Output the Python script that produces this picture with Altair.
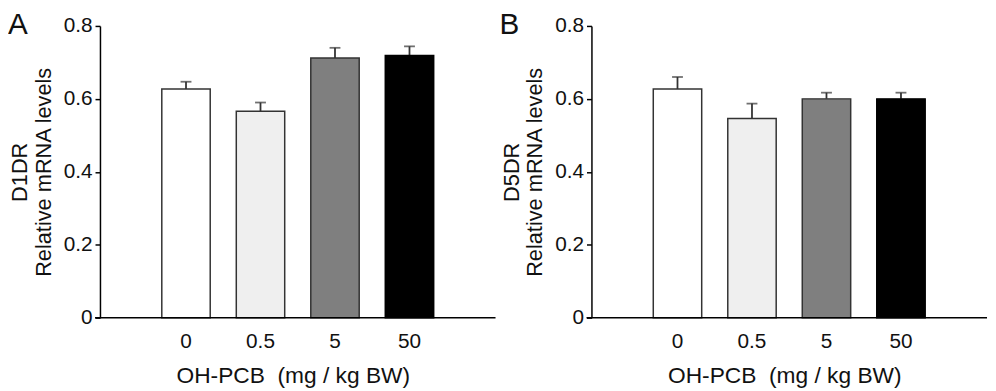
import altair as alt
import pandas as pd

cats = ["0", "0.5", "5", "50"]
d1_mean = [0.627, 0.566, 0.712, 0.719]
d1_err = [0.020, 0.024, 0.028, 0.025]
d5_mean = [0.627, 0.546, 0.600, 0.600]
d5_err = [0.033, 0.041, 0.017, 0.017]
fills = ["#ffffff", "#efefef", "#7f7f7f", "#000000"]
strokes = ["#333333", "#333333", "#333333", "#000000"]

FONT = "Liberation Sans"
W, H = 400, 295


def panel(mean, err, letter, gene):
    df = pd.DataFrame({
        "dose": cats,
        "mean": mean,
        "upper": [m + e for m, e in zip(mean, err)],
        "fill": fills,
        "stroke": strokes,
    })
    base = alt.Chart(df)
    x = alt.X("dose:N", sort=cats,
              scale=alt.Scale(paddingInner=0.35, paddingOuter=0.83),
              axis=alt.Axis(title="OH-PCB\u00a0\u00a0(mg / kg BW)", labelAngle=0,
                            domain=False, ticks=False, labelPadding=13,
                            labelFontSize=21, titleFontSize=23,
                            titleFontWeight="normal", titlePadding=14,
                            titleX=195, labelColor="#111", titleColor="#111",
                            labelFont=FONT, titleFont=FONT))
    y = alt.Y("mean:Q",
              scale=alt.Scale(domain=[0, 0.8], nice=False),
              axis=alt.Axis(title=[gene, "Relative mRNA levels"],
                            values=[0, 0.2, 0.4, 0.6, 0.8],
                            labelExpr="datum.value == 0 ? '0' : format(datum.value, '.1f')",
                            grid=False, domainColor="#000", domainWidth=1.5,
                            tickColor="#000", tickWidth=1.5, tickSize=5,
                            labelPadding=3, labelFontSize=21, titleFontSize=22,
                            titleFontWeight="normal", titlePadding=8,
                            titleLineHeight=24, labelColor="#111",
                            titleColor="#111", labelFont=FONT, titleFont=FONT))
    err_rule = base.mark_rule(color="#333", strokeWidth=1.8).encode(
        x=x, y="mean:Q", y2="upper:Q")
    cap = base.mark_tick(color="#333", thickness=1.8, size=11).encode(
        x=x, y="upper:Q")
    bars = base.mark_bar(strokeWidth=1.5).encode(
        x=x, y=y,
        fill=alt.Fill("fill:N", scale=None),
        stroke=alt.Stroke("stroke:N", scale=None))
    baseline = alt.Chart(pd.DataFrame({"v": [0]})).mark_rule(
        color="#000", strokeWidth=1.5).encode(
        y="v:Q", x=alt.value(-5), x2=alt.value(W))
    lab = alt.Chart(pd.DataFrame({"t": [letter]})).mark_text(
        text=letter, font=FONT, fontSize=30, align="left",
        baseline="alphabetic", color="#111").encode(
        x=alt.value(-93), y=alt.value(8))
    return alt.layer(err_rule, cap, bars, baseline, lab).properties(
        width=W, height=H)


chart = alt.hconcat(
    panel(d1_mean, d1_err, "A", "D1DR"),
    panel(d5_mean, d5_err, "B", "D5DR"),
    spacing=3,
).properties(padding=0).configure_view(stroke=None)

chart.save("out.html", embed_options={"renderer": "svg", "actions": False})
